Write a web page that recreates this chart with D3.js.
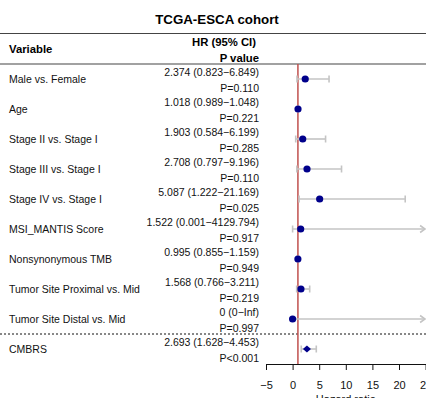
<!DOCTYPE html>
<html>
<head>
<meta charset="utf-8">
<script src="https://cdn.jsdelivr.net/npm/d3@7"></script>
<style>
  html, body { margin: 0; padding: 0; background: #fff; }
  svg { display: block; font-family: "Liberation Sans", Arial, sans-serif; }
</style>
</head>
<body>
<svg id="chart" width="426" height="398"></svg>
<script>
// Multivariable Cox model, TCGA-ESCA cohort
const variables = [
  "Male vs. Female", "Age", "Stage II vs. Stage I", "Stage III vs. Stage I",
  "Stage IV vs. Stage I", "MSI_MANTIS Score", "Nonsynonymous TMB",
  "Tumor Site Proximal vs. Mid", "Tumor Site Distal vs. Mid", "CMBRS"
];
const hazardRatios = [2.374, 1.018, 1.903, 2.708, 5.087, 1.522, 0.995, 1.568, 0, 2.693];
const ciLower      = [0.823, 0.989, 0.584, 0.797, 1.222, 0.001, 0.855, 0.766, 0, 1.628];
const ciUpper      = [6.849, 1.048, 6.199, 9.196, 21.169, 4129.794, 1.159, 3.211, Infinity, 4.453];
const pLabels      = ["P=0.110", "P=0.221", "P=0.285", "P=0.110", "P=0.025",
                      "P=0.917", "P=0.949", "P=0.219", "P=0.997", "P<0.001"];
const axisTicks    = [-5, 0, 5, 10, 15, 20, 25];
const summaryRow   = "CMBRS";

const svg = d3.select("#chart");
const W = 426;

const rows = variables.map((v, i) => ({
  name: v, hr: hazardRatios[i], lo: ciLower[i], hi: ciUpper[i], p: pLabels[i]
}));

const y = d3.scaleBand().domain(variables).range([64, 364]);
const x = d3.scaleLinear().domain([-5, 25]).range([266, 425.6]);
const xMax = x.domain()[1];

const fmt = v => v === Infinity ? "Inf" : (v === 0 ? "0" : v.toFixed(3));
const cy = d => y(d.name) + y.bandwidth() / 2;

// Title
svg.append("text")
  .attr("x", 217).attr("y", 19)
  .attr("text-anchor", "middle").attr("dominant-baseline", "central")
  .attr("font-weight", "bold").attr("font-size", "13.3px")
  .text("TCGA-ESCA cohort");

// Header rules
[33.5, 64].forEach(yy => {
  svg.append("line")
    .attr("x1", 0).attr("x2", W).attr("y1", yy).attr("y2", yy)
    .attr("stroke", "#444").attr("stroke-width", 1.2);
});

// Header labels
svg.append("text")
  .attr("x", 9).attr("y", 49).attr("dominant-baseline", "central")
  .attr("font-weight", "bold").attr("font-size", "11.3px")
  .text("Variable");
svg.append("text")
  .attr("x", 256).attr("y", 41.5).attr("text-anchor", "end").attr("dominant-baseline", "central")
  .attr("font-weight", "bold").attr("font-size", "11.3px")
  .text("HR (95% CI)");
svg.append("text")
  .attr("x", 259).attr("y", 57.5).attr("text-anchor", "end").attr("dominant-baseline", "central")
  .attr("font-weight", "bold").attr("font-size", "11.3px")
  .text("P value");

// Row text
const rowG = svg.append("g").attr("font-size", "10.5px").attr("fill", "#111");
rowG.selectAll("text.var").data(rows).join("text")
  .attr("class", "var")
  .attr("x", 9).attr("y", d => cy(d)).attr("dominant-baseline", "central")
  .text(d => d.name);
rowG.selectAll("text.hr").data(rows).join("text")
  .attr("class", "hr")
  .attr("x", 259).attr("y", d => cy(d) - 7)
  .attr("text-anchor", "end").attr("dominant-baseline", "central")
  .text(d => `${fmt(d.hr)} (${fmt(d.lo)}\u2212${fmt(d.hi)})`);
rowG.selectAll("text.p").data(rows).join("text")
  .attr("class", "p")
  .attr("x", 259).attr("y", d => cy(d) + 8.5)
  .attr("text-anchor", "end").attr("dominant-baseline", "central")
  .text(d => d.p);

// Dotted separator above the summary row
svg.append("line")
  .attr("x1", 0).attr("x2", W)
  .attr("y1", y(summaryRow)).attr("y2", y(summaryRow))
  .attr("stroke", "#111").attr("stroke-width", 1)
  .attr("stroke-dasharray", "2,2");

// Reference line at HR = 1
svg.append("line")
  .attr("x1", x(1)).attr("x2", x(1))
  .attr("y1", 64).attr("y2", 364)
  .attr("stroke", "#c0504d").attr("stroke-width", 1.5);

// Confidence intervals
const ciG = svg.append("g").attr("stroke", "#c4c4c4").attr("stroke-width", 1.6).attr("fill", "none");
rows.forEach(d => {
  const yy = cy(d);
  const x1 = x(Math.max(d.lo, x.domain()[0]));
  const clipped = d.hi > xMax;
  const x2 = clipped ? x(xMax) - 0.5 : x(d.hi);
  ciG.append("line").attr("x1", x1).attr("x2", x2).attr("y1", yy).attr("y2", yy);
  if (d.lo > 0) {
    ciG.append("line").attr("x1", x1).attr("x2", x1).attr("y1", yy - 3.5).attr("y2", yy + 3.5);
  }
  if (clipped) {
    ciG.append("path").attr("d", `M${x2 - 5},${yy - 3.5}L${x2},${yy}L${x2 - 5},${yy + 3.5}`);
  } else {
    ciG.append("line").attr("x1", x2).attr("x2", x2).attr("y1", yy - 3.5).attr("y2", yy + 3.5);
  }
});

// Point estimates: circles for covariates, diamond for the signature
const ptG = svg.append("g").attr("fill", "#00008b");
ptG.selectAll("circle").data(rows.filter(d => d.name !== summaryRow)).join("circle")
  .attr("cx", d => x(d.hr)).attr("cy", d => cy(d)).attr("r", 3.6);
ptG.selectAll("path").data(rows.filter(d => d.name === summaryRow)).join("path")
  .attr("d", d => {
    const cx = x(d.hr), c = cy(d);
    return `M${cx - 4},${c}L${cx},${c - 3.5}L${cx + 4},${c}L${cx},${c + 3.5}Z`;
  });

// X axis
const axis = svg.append("g")
  .attr("transform", "translate(0,364)")
  .call(d3.axisBottom(x).tickValues(axisTicks).tickSize(6).tickSizeOuter(0).tickPadding(11));
axis.select(".domain").attr("stroke", "#111");
axis.selectAll(".tick line").attr("stroke", "#111");
axis.selectAll(".tick text").attr("font-size", "11px").attr("fill", "#111")
  .attr("font-family", "Liberation Sans, Arial, sans-serif");

svg.append("text")
  .attr("x", x(10)).attr("y", 399)
  .attr("text-anchor", "middle").attr("dominant-baseline", "central")
  .attr("font-size", "11px").attr("fill", "#111")
  .text("Hazard ratio");
</script>
</body>
</html>
